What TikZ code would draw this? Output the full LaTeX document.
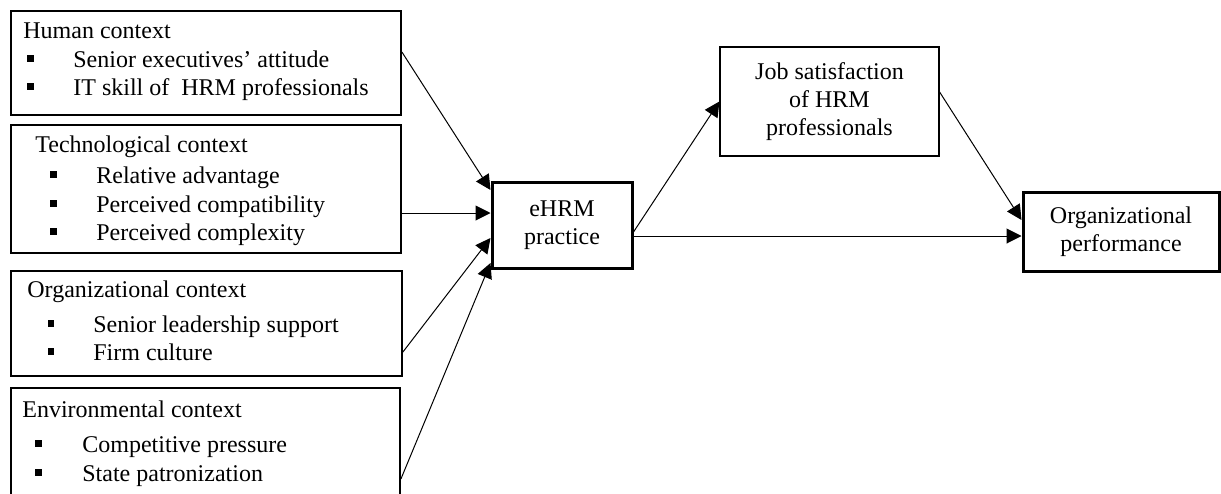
\documentclass[tikz,border=0pt]{standalone}
\usepackage{fontspec}
\setmainfont{Liberation Serif}
\usetikzlibrary{arrows.meta}

\begin{document}
\begin{tikzpicture}%
        [x=0.5pt,
        y=-0.5pt,
        font=\fontsize{12}{14}\selectfont,
        box/.style={draw, rectangle, line width=0.9pt, inner sep=0pt},
        thickbox/.style={box, line width=1.5pt, align=center},
        thinbox/.style={box, line width=0.6pt, align=center},
        txt/.style={anchor=base west, inner sep=0pt},
        bullet/.style={fill, rectangle, minimum size=3.2pt, inner sep=0pt},
        link/.style={line width=0.5pt, -{Triangle[length=7.5pt,width=7.5pt]}}]

    \useasboundingbox (0,0) rectangle (1221,493);
    %%
    %% Drawing the context boxes
    %%
    \node[box, minimum width=195pt, minimum height=52pt] (human) at (206,63) {};
    \node[box, minimum width=195pt, minimum height=64pt] (tech) at (206,189) {};
    \node[box, minimum width=195.5pt, minimum height=52.5pt] (org) at (206.5,323.5) {};
    \node[box, minimum width=194.5pt, minimum height=56pt] (env) at (205.5,444) {};
    %%
    %% Human context
    \node[txt] (humanhead) at (23,38) {Human context};
    \node[bullet] (hb1) at (30.5,58.5) {};
    \node[txt] (h1) at (73,67) {Senior executives’ attitude};
    \node[bullet] (hb2) at (30.5,86.5) {};
    \node[txt] (h2) at (73,95) {IT skill of\ \ HRM professionals};
    %% Technological context
    \node[txt] (techhead) at (35,152) {Technological context};
    \node[bullet] (tb1) at (53.3,174.5) {};
    \node[txt] (t1) at (96,183) {Relative advantage};
    \node[bullet] (tb2) at (53.3,203.5) {};
    \node[txt] (t2) at (96,212) {Perceived compatibility};
    \node[bullet] (tb3) at (53.3,231.5) {};
    \node[txt] (t3) at (96,240) {Perceived complexity};
    %% Organizational context
    \node[txt] (orghead) at (27,297) {Organizational context};
    \node[bullet] (ob1) at (51,323.5) {};
    \node[txt] (o1) at (93,332) {Senior leadership support};
    \node[bullet] (ob2) at (51,351.5) {};
    \node[txt] (o2) at (93,360) {Firm culture};
    %% Environmental context
    \node[txt] (envhead) at (22,417) {Environmental context};
    \node[bullet] (eb1) at (38.3,443.5) {};
    \node[txt] (e1) at (82,452) {Competitive pressure};
    \node[bullet] (eb2) at (38.3,472.5) {};
    \node[txt] (e2) at (82,481) {State patronization};
    %%
    %% Drawing the outcome boxes
    %%
    \node[thickbox, minimum width=70pt, minimum height=43pt] (ehrm) at (562,225) {eHRM\\practice};
    \node[thinbox, minimum width=109.5pt, minimum height=54.5pt] (job) at (829.5,101.5) {Job satisfaction\\of HRM\\professionals};
    \node[thickbox, minimum width=98pt, minimum height=39.5pt] (perf) at (1121,231.5) {Organizational\\performance};
    %%
    %% Drawing the links
    %%
    \draw[link] ([yshift=5.5pt]human.east) -- ([yshift=17.5pt]ehrm.west);
    \draw[link] ([yshift=-12pt]tech.east) -- ([yshift=6pt]ehrm.west);
    \draw[link] ([yshift=-14.25pt]org.east) -- ([yshift=-6.5pt]ehrm.west);
    \draw[link] ([yshift=-17.5pt]env.east) -- ([yshift=-19pt]ehrm.west);
    \draw[link] ([yshift=-3.5pt]ehrm.east) -- (job.west);
    \draw[link] ([yshift=-5.5pt]ehrm.east) -- ([yshift=-2.25pt]perf.west);
    \draw[link] ([yshift=4.75pt]job.east) -- ([yshift=5.75pt]perf.west);
    %%
    \end{tikzpicture}
\end{document}
